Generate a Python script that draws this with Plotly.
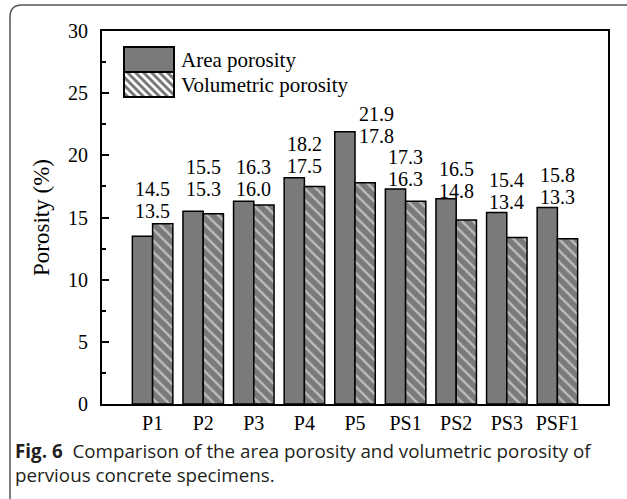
import plotly.graph_objects as go

# ---- data ----
categories = ["P1", "P2", "P3", "P4", "P5", "PS1", "PS2", "PS3", "PSF1"]
area_porosity = [13.5, 15.5, 16.3, 18.2, 21.9, 17.3, 16.5, 15.4, 15.8]
volumetric_porosity = [14.5, 15.3, 16.0, 17.5, 17.8, 16.3, 14.8, 13.4, 13.3]
y_ticks = [0, 5, 10, 15, 20, 25, 30]

# ---- style ----
W, H = 627, 499
L, R, T, B = 102, 19, 31, 95
PW, PH = W - L - R, H - T - B
SERIF = "Liberation Serif"
SANS = "Open Sans"
GRAY = "#7a7a7a"
LABEL_SIZE = 20
LINE_GAP = 22

# per-label placement tweaks (x in category units, y in px)
label_dx = [0, 0, 0, 0, 0.43, 0, 0, 0, 0]
label_dy = [1, 10, 0, 0, -16, -2, -4, -1, -1]


def px(x):
    return (x - L) / PW


def py(y):
    return (T + PH - y) / PH


fig = go.Figure()
fig.add_trace(go.Bar(
    x=categories, y=area_porosity, name="Area porosity",
    marker=dict(color=GRAY, line=dict(color="black", width=1.5)),
))
fig.add_trace(go.Bar(
    x=categories, y=volumetric_porosity, name="Volumetric porosity",
    marker=dict(color=GRAY, line=dict(color="black", width=1.5),
                pattern=dict(shape="\\", fgcolor="white", size=8, solidity=0.3)),
))

# value labels (larger value on top)
for i, (a, v) in enumerate(zip(area_porosity, volumetric_porosity)):
    hi, lo = max(a, v), min(a, v)
    for txt, extra in ((f"{lo:.1f}", 0), (f"{hi:.1f}", LINE_GAP)):
        fig.add_annotation(
            x=i + label_dx[i], y=hi, xref="x", yref="y", text=txt,
            showarrow=False, xanchor="center", yanchor="bottom",
            yshift=label_dy[i] + extra, borderpad=0,
            font=dict(family=SERIF, size=LABEL_SIZE, color="black"),
        )

shapes = []
# outer rounded frame (figure border)
x0, y0, x1, y1, r = 10, 5, 660, 520, 12
path = (f"M {px(x0)},{py(y0 + r)} L {px(x0)},{py(y1 - r)} "
        f"Q {px(x0)},{py(y1)} {px(x0 + r)},{py(y1)} "
        f"M {px(x0)},{py(y0 + r)} Q {px(x0)},{py(y0)} {px(x0 + r)},{py(y0)} "
        f"L {px(x1)},{py(y0)}")
shapes.append(dict(type="path", xref="paper", yref="paper", path=path,
                   line=dict(color="#555555", width=1.5)))

# manual legend swatches
sx0, sx1 = 124, 174
b1 = (47, 72)
b2 = (72, 97)
shapes.append(dict(type="rect", xref="paper", yref="paper",
                   x0=px(sx0), x1=px(sx1), y0=py(b1[1]), y1=py(b1[0]),
                   fillcolor=GRAY, line=dict(color="black", width=2)))
shapes.append(dict(type="rect", xref="paper", yref="paper",
                   x0=px(sx0), x1=px(sx1), y0=py(b2[1]), y1=py(b2[0]),
                   fillcolor=GRAY, line=dict(color="black", width=0)))
hgt = b2[1] - b2[0]
start = sx0 - hgt
while start < sx1:
    ax, ay = start, b2[0]
    bx, by = start + hgt, b2[1]
    if ax < sx0:
        ay = b2[0] + (sx0 - ax)
        ax = sx0
    if bx > sx1:
        by = b2[1] - (bx - sx1)
        bx = sx1
    if bx > ax:
        shapes.append(dict(type="line", xref="paper", yref="paper",
                           x0=px(ax), y0=py(ay), x1=px(bx), y1=py(by),
                           line=dict(color="white", width=2.5)))
    start += 8
shapes.append(dict(type="rect", xref="paper", yref="paper",
                   x0=px(sx0), x1=px(sx1), y0=py(b2[1]), y1=py(b2[0]),
                   line=dict(color="black", width=2)))

for name, (ya, yb) in (("Area porosity", b1), ("Volumetric porosity", b2)):
    fig.add_annotation(x=px(179), y=py((ya + yb) / 2), xref="paper", yref="paper",
                       text=name, showarrow=False, xanchor="left", yanchor="middle",
                       font=dict(family=SERIF, size=21, color="black"))

# caption
fig.add_annotation(x=px(13), y=py(451), xref="paper", yref="paper",
                   text="<b>Fig. 6</b>  Comparison of the area porosity and volumetric porosity of",
                   showarrow=False, xanchor="left", yanchor="middle",
                   font=dict(family=SANS, size=18.8, color="#231f20"))
fig.add_annotation(x=px(13), y=py(475), xref="paper", yref="paper",
                   text="pervious concrete specimens.",
                   showarrow=False, xanchor="left", yanchor="middle",
                   font=dict(family=SANS, size=18.8, color="#231f20"))

fig.update_layout(
    width=W, height=H,
    margin=dict(l=L, r=R, t=T, b=B, pad=0),
    paper_bgcolor="white", plot_bgcolor="white",
    barmode="group", bargap=0.2, bargroupgap=0,
    showlegend=False,
    shapes=shapes,
    font=dict(family=SERIF, color="black"),
)
fig.update_xaxes(
    range=[-1, 9], showline=True, linecolor="black", linewidth=2, mirror=True,
    ticks="", showgrid=False, tickfont=dict(family=SERIF, size=20, color="black"),
    ticklabelstandoff=0,
)
fig.update_yaxes(
    range=[0, 30], tickvals=y_ticks, showline=True, linecolor="black", linewidth=2,
    mirror=True, ticks="inside", ticklen=7, tickwidth=1.5, tickcolor="black",
    minor=dict(dtick=2.5, ticks="inside", ticklen=4, tickwidth=1.5, tickcolor="black"),
    showgrid=False, zeroline=False,
    tickfont=dict(family=SERIF, size=20, color="black"), ticklabelstandoff=8,
    title=dict(text="Porosity (%)", font=dict(family=SERIF, size=23, color="black"),
               standoff=12),
)

fig.write_html(
    "out.html",
    config={"displayModeBar": False},
    post_script="document.body.style.margin='0';document.body.style.overflow='hidden';",
)
